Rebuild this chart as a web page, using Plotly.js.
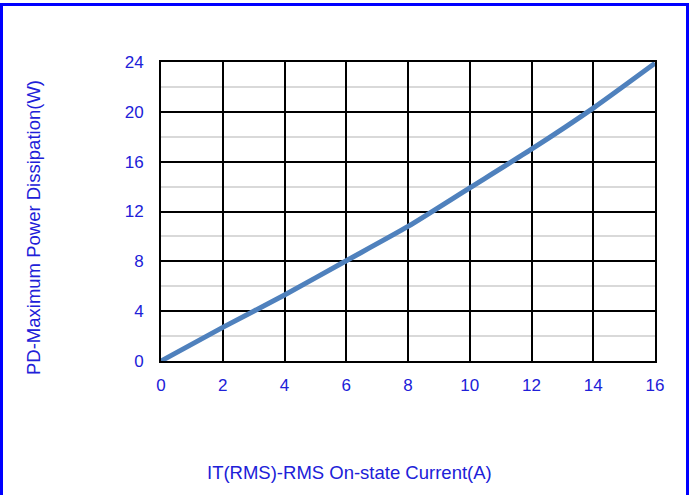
<!DOCTYPE html>
<html>
<head>
<meta charset="utf-8">
<script src="https://cdn.plot.ly/plotly-3.0.1.min.js"></script>
<style>
html,body{margin:0;padding:0;background:#fff;}
#wrap{position:relative;width:694px;height:495px;overflow:hidden;}
#chart{position:absolute;left:0;top:0;width:694px;height:495px;}
#frame{position:absolute;left:0;top:3px;width:683px;height:500px;border:3px solid #0000ff;border-bottom:none;pointer-events:none;}
</style>
</head>
<body>
<div id="wrap"><div id="chart"></div><div id="frame"></div></div>
<script>
const current = [0, 2, 4, 6, 8, 10, 12, 14, 16];
const power = [0, 2.7, 5.3, 8.05, 10.8, 13.9, 17.0, 20.3, 23.9];
const xTicks = [0, 2, 4, 6, 8, 10, 12, 14, 16];
const yTicks = [0, 4, 8, 12, 16, 20, 24];
const xTitle = 'IT(RMS)-RMS On-state Current(A)';
const yTitle = 'PD-Maximum Power Dissipation(W)';

const blue = '#2020d8';
const trace = {
  x: current, y: power, type: 'scatter', mode: 'lines',
  line: {color: '#4f81bd', width: 5, shape: 'spline', smoothing: 0.6},
  hoverinfo: 'skip'
};
const layout = {
  width: 694, height: 495,
  margin: {l: 161, r: 39, t: 62, b: 134},
  paper_bgcolor: '#fff', plot_bgcolor: '#fff',
  showlegend: false,
  font: {family: 'Liberation Sans, Arial, sans-serif', color: blue, size: 17},
  xaxis: {
    range: [0, 16], tickvals: xTicks, ticktext: xTicks.map(String),
    showgrid: true, gridcolor: '#000', gridwidth: 2,
    zeroline: false, showline: true, linecolor: '#000', linewidth: 2, mirror: true,
    ticks: '', ticklabelstandoff: 8, tickfont: {size: 17, color: blue}, fixedrange: true
  },
  yaxis: {
    range: [0, 24], tickvals: yTicks, ticktext: yTicks.map(String),
    showgrid: true, gridcolor: '#000', gridwidth: 2,
    minor: {dtick: 2, showgrid: true, gridcolor: '#d9d9d9', gridwidth: 2, ticks: ''},
    zeroline: false, showline: true, linecolor: '#000', linewidth: 2, mirror: true,
    ticks: '', ticklabelstandoff: 12, tickfont: {size: 17, color: blue}, fixedrange: true
  },
  annotations: [
    {text: xTitle, xref: 'paper', yref: 'paper', x: (349 - 161) / 494, y: -(472 - 361) / 299,
     xanchor: 'center', yanchor: 'middle', showarrow: false, font: {size: 18.5, color: blue}},
    {text: yTitle, xref: 'paper', yref: 'paper', x: (33 - 161) / 494, y: (361 - 228) / 299,
     xanchor: 'center', yanchor: 'middle', textangle: -90, showarrow: false, font: {size: 18.5, color: blue}}
  ]
};
Plotly.newPlot('chart', [trace], layout, {displayModeBar: false, staticPlot: true});
</script>
</body>
</html>
